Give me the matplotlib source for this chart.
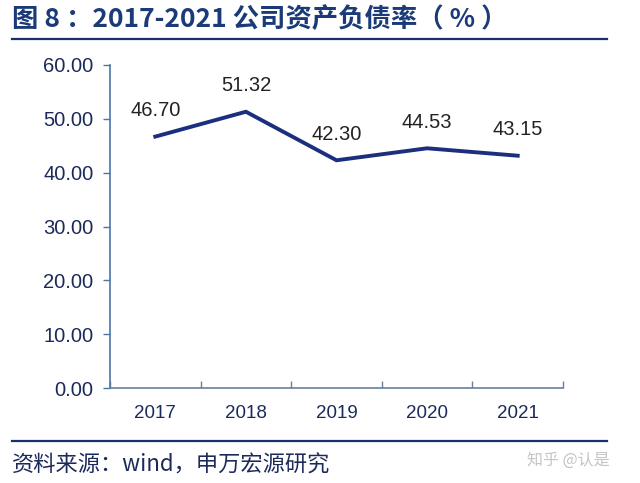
import matplotlib
matplotlib.use("Agg")
import matplotlib.pyplot as plt
from matplotlib.lines import Line2D

years = ["2017", "2018", "2019", "2020", "2021"]
ratios = [46.70, 51.32, 42.30, 44.53, 43.15]
yticks = [0, 10, 20, 30, 40, 50, 60]

title = "图 8 ：2017-2021 公司资产负债率（ % ）"
source = "资料来源：wind，申万宏源研究"
watermark = "知乎 @认是"

plt.rcParams['font.family'] = ['Liberation Sans', 'Noto Sans CJK SC', 'DejaVu Sans']

W, H = 640, 483
fig = plt.figure(figsize=(W / 100, H / 100), dpi=100)
fig.patch.set_facecolor("white")

ax = fig.add_axes([110 / W, 1 - 388 / H, (563 - 110) / W, (388 - 65) / H])
x = list(range(len(years)))
ax.plot(x, ratios, color="#1c2f7e", lw=2.8, solid_joinstyle="miter")
for xi, v in zip(x, ratios):
    ax.annotate(f"{v:.2f}", (xi, v), xytext=(0, 12), textcoords="offset points",
                ha="center", va="bottom", fontsize=14.5, color="#222222")

ax.set_xlim(-0.5, len(years) - 0.5)
ax.set_ylim(0, 60)
ax.set_yticks(yticks)
ax.set_yticklabels([f"{t:.2f}" for t in yticks], fontsize=14.5, color="#1c2a5a")
ax.set_xticks([i - 0.5 for i in range(len(years) + 1)], minor=False)
ax.set_xticklabels([])
ax.set_xticks(x, minor=True)
ax.set_xticklabels(years, minor=True, fontsize=13.5, color="#1c2a5a")
ax.tick_params(axis="x", which="major", length=5, direction="in", color="#6a7f98", width=1)
ax.tick_params(axis="x", which="minor", length=0, pad=12)
ax.tick_params(axis="y", length=5, direction="out", color="#4a76a8", width=1, pad=7)
for s in ["top", "right"]:
    ax.spines[s].set_visible(False)
ax.spines["left"].set_color("#4a76a8")
ax.spines["left"].set_linewidth(1.2)
ax.spines["bottom"].set_color("#6a7f98")
ax.spines["bottom"].set_linewidth(1.2)

fig.text(12 / W, 1 - 19 / H, title, fontsize=19, fontweight="bold", color="#1b3a78",
         ha="left", va="center", family=['Noto Sans CJK SC', 'DejaVu Sans'])
fig.add_artist(Line2D([12 / W, 607 / W], [1 - 39 / H, 1 - 39 / H], color="#1b2f6e", lw=1.6))
fig.add_artist(Line2D([12 / W, 607 / W], [1 - 441 / H, 1 - 441 / H], color="#1b2f6e", lw=1.6))
fig.text(12 / W, 1 - 465 / H, source, fontsize=16, color="#1c2a5a",
         ha="left", va="center", family=['Noto Sans CJK SC', 'DejaVu Sans'])
fig.text(610 / W, 1 - 460 / H, watermark, fontsize=11.5, color="#c4c4c4",
         ha="right", va="center", family=['Noto Sans CJK SC', 'DejaVu Sans'])

fig.savefig("out.png", dpi=100, facecolor="white")
